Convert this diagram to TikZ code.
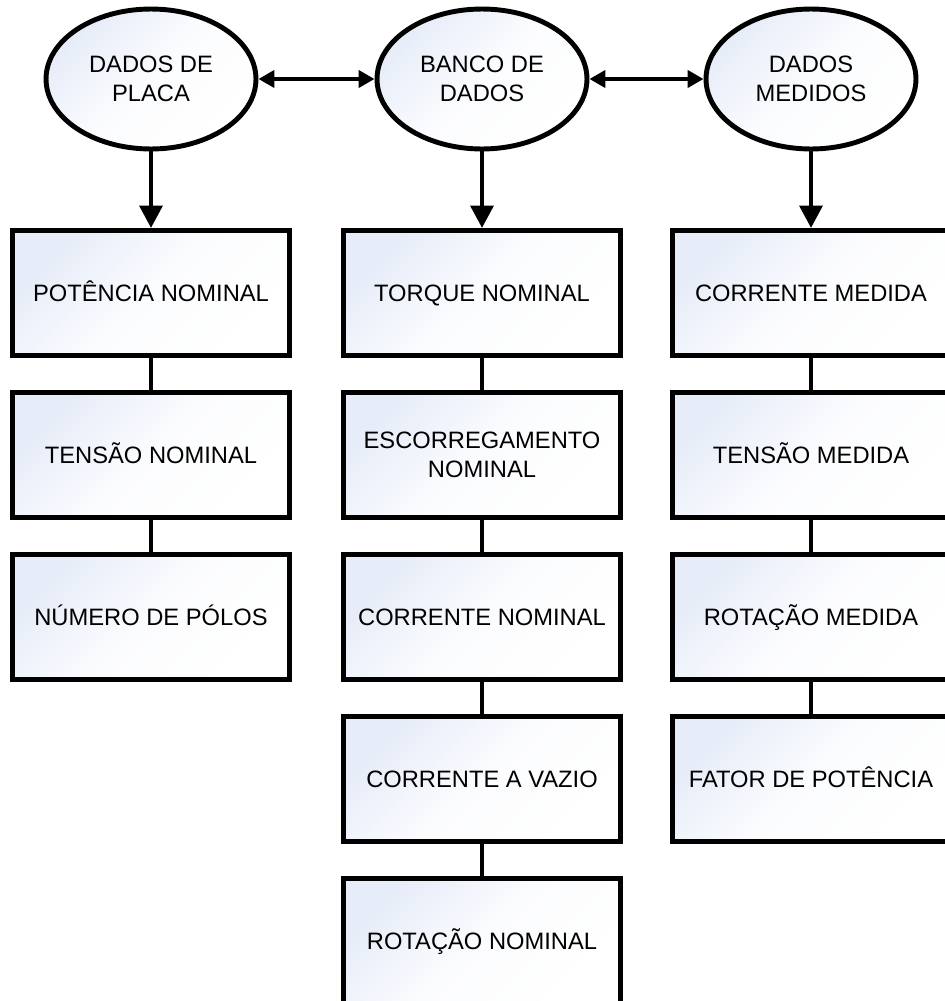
\documentclass[tikz,border=0pt]{standalone}
\usepackage{fontspec}
\setmainfont{Liberation Sans}
\usetikzlibrary{arrows.meta,shapes.geometric}
\definecolor{azulclaro}{HTML}{E6ECF8}
\tikzset{
  bloco/.style={draw, line width=2.8pt, minimum width=5.54cm, minimum height=2.5cm,
    top color=azulclaro, bottom color=white, middle color=azulclaro!15!white,
    shading angle=45, align=center, font=\fontsize{13.5}{16.5}\selectfont},
  caixa/.style={bloco, text height=9.7pt, text depth=0pt},
  elipse/.style={bloco, ellipse, minimum width=4.2cm, minimum height=2.8cm, inner sep=0pt},
  liga/.style={line width=2.8pt},
  seta/.style={line width=2.8pt, -{Triangle[length=0.45cm,width=0.45cm]}},
  seta2/.style={line width=2.8pt, {Triangle[length=0.32cm,width=0.34cm]}-{Triangle[length=0.32cm,width=0.34cm]}}
}
\begin{document}
\begin{tikzpicture}[x=0.02cm, y=-0.02cm]
\useasboundingbox (0,0) rectangle (944,1001);
% Elipses
\node[elipse] (placa) at (151,79) {DADOS DE\\PLACA};
\node[elipse] (banco) at (482,79) {BANCO DE\\DADOS};
\node[elipse] (medidos) at (811,79) {DADOS\\MEDIDOS};
% Coluna 1
\node[caixa] (potn) at (151,293) {POTÊNCIA NOMINAL};
\node[caixa] (tensn) at (151,455) {TENSÃO NOMINAL};
\node[caixa] (polos) at (151,617) {NÚMERO DE PÓLOS};
% Coluna 2
\node[caixa] (torque) at (482,293) {TORQUE NOMINAL};
\node[bloco] (escorr) at (482,455) {ESCORREGAMENTO\\NOMINAL};
\node[caixa] (corrn) at (482,617) {CORRENTE NOMINAL};
\node[caixa] (corrv) at (482,779) {CORRENTE A VAZIO};
\node[caixa] (rotn) at (482,941) {ROTAÇÃO NOMINAL};
% Coluna 3
\node[caixa] (corrm) at (811,293) {CORRENTE MEDIDA};
\node[caixa] (tensm) at (811,455) {TENSÃO MEDIDA};
\node[caixa] (rotm) at (811,617) {ROTAÇÃO MEDIDA};
\node[caixa] (fator) at (811,779) {FATOR DE POTÊNCIA};
% Setas
\draw[seta2] (placa) -- (banco);
\draw[seta2] (banco) -- (medidos);
\draw[seta] (placa) -- (potn);
\draw[seta] (banco) -- (torque);
\draw[seta] (medidos) -- (corrm);
% Ligacoes
\draw[liga] (potn) -- (tensn);
\draw[liga] (tensn) -- (polos);
\draw[liga] (torque) -- (escorr);
\draw[liga] (escorr) -- (corrn);
\draw[liga] (corrn) -- (corrv);
\draw[liga] (corrv) -- (rotn);
\draw[liga] (corrm) -- (tensm);
\draw[liga] (tensm) -- (rotm);
\draw[liga] (rotm) -- (fator);
\end{tikzpicture}
\end{document}
